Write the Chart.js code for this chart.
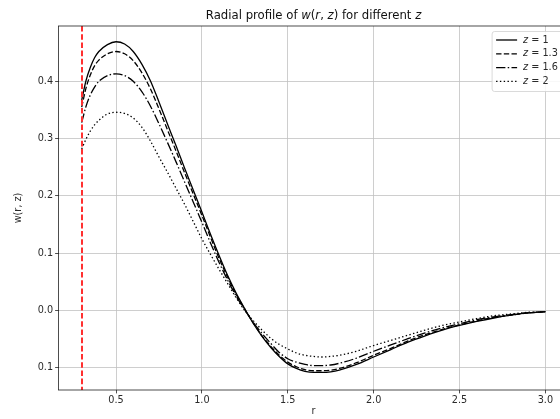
<!DOCTYPE html>
<html><head><meta charset="utf-8">
<script src="https://cdn.jsdelivr.net/npm/chart.js"></script>
<style>
html,body{margin:0;padding:0;overflow:hidden;background:#fff;width:560px;height:419px}
#wrap{position:absolute;left:0;top:0;width:572px;height:419px}
</style>
</head><body><div id="wrap"><canvas id="c"></canvas></div>
<script>
// ---- data ----
const rValues = [0.30,0.325,0.35,0.375,0.40,0.45,0.50,0.55,0.60,0.65,0.70,0.75,0.80,0.85,0.90,0.95,1.00,1.05,1.10,1.15,1.20,1.25,1.30,1.35,1.40,1.45,1.50,1.55,1.60,1.65,1.70,1.75,1.80,1.90,2.00,2.10,2.20,2.30,2.40,2.50,2.60,2.70,2.80,2.90,3.00];
const wZ1  = [0.367,0.401,0.424,0.441,0.452,0.464,0.469,0.465,0.452,0.430,0.401,0.364,0.325,0.287,0.248,0.210,0.172,0.133,0.096,0.061,0.030,0.003,-0.023,-0.045,-0.064,-0.080,-0.093,-0.101,-0.106,-0.108,-0.108,-0.107,-0.104,-0.094,-0.081,-0.068,-0.055,-0.044,-0.034,-0.026,-0.019,-0.013,-0.008,-0.004,-0.002];
const wZ13 = [0.355,0.388,0.411,0.427,0.437,0.448,0.452,0.448,0.436,0.415,0.387,0.352,0.315,0.278,0.240,0.203,0.166,0.128,0.091,0.058,0.028,0.002,-0.022,-0.044,-0.062,-0.078,-0.090,-0.098,-0.103,-0.105,-0.105,-0.104,-0.101,-0.091,-0.078,-0.066,-0.053,-0.042,-0.033,-0.025,-0.018,-0.012,-0.008,-0.004,-0.002];
const wZ16 = [0.328,0.356,0.376,0.390,0.400,0.410,0.413,0.410,0.400,0.382,0.357,0.326,0.293,0.259,0.224,0.189,0.154,0.118,0.084,0.053,0.025,0.001,-0.021,-0.040,-0.057,-0.073,-0.084,-0.090,-0.094,-0.096,-0.096,-0.095,-0.092,-0.083,-0.071,-0.060,-0.049,-0.039,-0.030,-0.023,-0.016,-0.011,-0.007,-0.004,-0.002];
const wZ2  = [0.282,0.299,0.313,0.324,0.332,0.343,0.346,0.344,0.336,0.320,0.296,0.268,0.241,0.213,0.185,0.155,0.125,0.098,0.072,0.047,0.022,0.000,-0.018,-0.034,-0.048,-0.059,-0.067,-0.074,-0.078,-0.080,-0.081,-0.080,-0.078,-0.071,-0.061,-0.052,-0.043,-0.034,-0.026,-0.020,-0.014,-0.009,-0.006,-0.003,-0.002];
const zLabels = ["1","1.3","1.6","2"];
const xTickValues = [0.5,1.0,1.5,2.0,2.5,3.0];
const xTickLabels = ["0.5","1.0","1.5","2.0","2.5","3.0"];
const yTickValues = [-0.1,0.0,0.1,0.2,0.3,0.4];
const yTickLabels = ["0.1","0.0","0.1","0.2","0.3","0.4"];
const cutoffR = 0.3;
const xRange = [0.165, 3.135];
const yRange = [-0.1386, 0.4965];

// ---- styling ----
const FONT = "DejaVu Sans";
const TEXT = "#2a2a2a";
const lineStyles = [[], [5.4,2.3], [9.3,2.3,1.5,2.3], [1.4,2.4]];
const seriesData = [wZ1, wZ13, wZ16, wZ2];

const datasets = seriesData.map((arr, k) => ({
  label: "z = " + zLabels[k],
  data: rValues.map((r, i) => ({x: r, y: arr[i]})),
  borderColor: "#000",
  borderWidth: 1.3,
  borderDash: lineStyles[k],
  pointRadius: 0,
  fill: false,
  cubicInterpolationMode: "monotone"
}));

function drawSegments(ctx, segs, cx, cy, size) {
  let total = 0;
  segs.forEach(s => { ctx.font = (s[1] ? "italic " : "") + size + "px '" + FONT + "'"; total += ctx.measureText(s[0]).width; });
  let x = cx - total / 2;
  ctx.textAlign = "left"; ctx.textBaseline = "middle";
  segs.forEach(s => { ctx.font = (s[1] ? "italic " : "") + size + "px '" + FONT + "'"; ctx.fillText(s[0], x, cy); x += ctx.measureText(s[0]).width; });
}

const extras = {
  id: "extras",
  afterDatasetsDraw(chart) {
    const {ctx, chartArea: a, scales} = chart;
    // red cut-off line
    ctx.save();
    const px = Math.round(scales.x.getPixelForValue(cutoffR));
    ctx.strokeStyle = "#ff3030"; ctx.lineWidth = 2; ctx.setLineDash([5.6, 2.6]);
    ctx.beginPath(); ctx.moveTo(px, a.top); ctx.lineTo(px, a.bottom); ctx.stroke();
    ctx.restore();
    // frame
    ctx.save();
    ctx.strokeStyle = "#222"; ctx.lineWidth = 0.8;
    ctx.strokeRect(a.left, a.top, a.right - a.left, a.bottom - a.top);
    ctx.restore();
    // legend
    ctx.save();
    const bx = a.right - 76.5, by = a.top + 5.5, bw = 71, bh = 60;
    ctx.fillStyle = "rgba(255,255,255,0.85)";
    ctx.strokeStyle = "#d0d0d0"; ctx.lineWidth = 0.8;
    ctx.beginPath();
    if (ctx.roundRect) ctx.roundRect(bx, by, bw, bh, 2.5); else ctx.rect(bx, by, bw, bh);
    ctx.fill(); ctx.stroke();
    chart.data.datasets.forEach((ds, k) => {
      const yy = by + 8.5 + k * 13.8;
      ctx.strokeStyle = "#000"; ctx.lineWidth = 1.3; ctx.setLineDash(ds.borderDash);
      ctx.beginPath(); ctx.moveTo(bx + 4, yy); ctx.lineTo(bx + 25, yy); ctx.stroke();
      ctx.setLineDash([]);
      ctx.fillStyle = TEXT;
      ctx.textAlign = "left"; ctx.textBaseline = "middle";
      ctx.font = "italic 9.7px '" + FONT + "'";
      const tx = bx + 31;
      ctx.fillText("z", tx, yy);
      const w = ctx.measureText("z").width;
      ctx.font = "9.7px '" + FONT + "'";
      ctx.fillText(" = " + zLabels[k], tx + w, yy);
    });
    ctx.restore();
    // title
    ctx.save();
    ctx.fillStyle = "#111";
    drawSegments(ctx, [["Radial profile of ", false], ["w", true], ["(", false], ["r", true], [", ", false], ["z", true], [")", false], [" for different ", false], ["z", true]], (a.left + a.right) / 2, 16, 11.7);
    ctx.restore();
  }
};

new Chart(document.getElementById("c"), {
  type: "line",
  data: {datasets},
  options: {
    responsive: true, maintainAspectRatio: false, animation: false, devicePixelRatio: 1,
    layout: {padding: {left: 0, right: 3.4, top: 26, bottom: 0}},
    plugins: {legend: {display: false}, tooltip: {enabled: false}, title: {display: false}},
    scales: {
      x: {
        type: "linear", min: xRange[0], max: xRange[1],
        afterBuildTicks: s => { s.ticks = xTickValues.map(v => ({value: v})); },
        afterFit: s => { s.height = 29; },
        ticks: {callback: (v, i) => xTickLabels[i], font: {family: FONT, size: 9.7}, color: TEXT, padding: 1, maxRotation: 0, autoSkip: false},
        grid: {color: "#c2c2c2", lineWidth: 0.8, tickLength: 3.4, tickColor: "#222", tickWidth: 0.8},
        border: {display: false},
        title: {display: true, text: "r", font: {family: FONT, size: 9.7}, color: TEXT, padding: {top: 0, bottom: 2}}
      },
      y: {
        type: "linear", min: yRange[0], max: yRange[1],
        afterBuildTicks: s => { s.ticks = yTickValues.map(v => ({value: v})); },
        afterFit: s => { s.width = 58.5; },
        ticks: {callback: (v, i) => yTickLabels[i], font: {family: FONT, size: 9.7}, color: TEXT, padding: 2, autoSkip: false},
        grid: {color: "#c2c2c2", lineWidth: 0.8, tickLength: 3.4, tickColor: "#222", tickWidth: 0.8},
        border: {display: false},
        title: {display: true, text: "w(r, z)", font: {family: FONT, size: 9.7}, color: TEXT, padding: {top: 12.2, bottom: 0}}
      }
    }
  },
  plugins: [extras]
});
</script>
</body></html>
